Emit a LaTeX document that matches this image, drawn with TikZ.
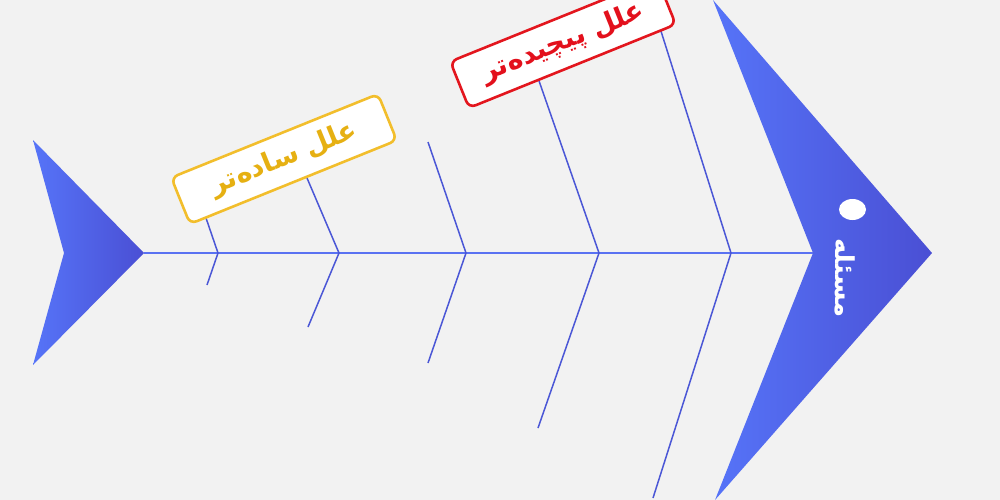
\documentclass[tikz,border=0pt]{standalone}
\usepackage{fontspec}
\newfontfamily\arabicfont[Script=Arabic,BoldFont={DejaVu Sans Bold}]{DejaVu Sans}
\TeXXeTstate=1
\definecolor{bgc}{HTML}{F2F2F2}
\definecolor{bonec}{HTML}{4B57D6}
\definecolor{spinec}{HTML}{5A72F2}
\definecolor{fishL}{HTML}{5674F8}
\definecolor{fishR}{HTML}{4A4FD4}
\definecolor{ybord}{HTML}{F2BE2C}
\definecolor{ytext}{HTML}{E6B012}
\definecolor{rbord}{HTML}{E3161E}
\definecolor{rtext}{HTML}{E3101C}
\tikzset{
  bone/.style={draw=bonec,line width=1.5pt},
  spine/.style={draw=spinec,line width=1.6pt},
  causebox/.style={fill=white,rounded corners=7pt,line width=2.6pt,
    minimum width=223pt,minimum height=50pt,inner sep=0pt,rotate=22,
    font=\arabicfont\bfseries\fontsize{27}{30}\selectfont},
  fishpart/.style={left color=fishL,right color=fishR,draw=none},
}
\begin{document}
\begin{tikzpicture}[x=1pt,y=-1pt]
\fill[bgc] (0,0) rectangle (1000,500);
\useasboundingbox (0,0) rectangle (1000,500);
% tail
\shade[fishpart] (33,140) -- (144,253) -- (33,365) -- (64,253) -- cycle;
% head
\shade[fishpart] (713,0) -- (932,253) -- (715,500) -- (813,253) -- cycle;
\coordinate (tailtip) at (144,253);
\coordinate (headnotch) at (813,253);
\draw[spine] (tailtip) -- (headnotch);
% joints
\coordinate (j1) at (218,253);
\coordinate (j2) at (339,253);
\coordinate (j3) at (466,253);
\coordinate (j4) at (599,253);
\coordinate (j5) at (731,253);
% upper ends
\coordinate (u1) at (206,218);
\coordinate (u2) at (307,178);
\coordinate (u3) at (428,142);
\coordinate (u4) at (538,78);
\coordinate (u5) at (660,28);
% lower ends
\coordinate (l1) at (207,285);
\coordinate (l2) at (308,327);
\coordinate (l3) at (428,363);
\coordinate (l4) at (538,428);
\coordinate (l5) at (653,498);
\foreach \i in {1,...,5}{
  \draw[bone] (u\i) -- (j\i) -- (l\i);
}
% cause boxes
\node[causebox,draw=ybord,text=ytext] (simple) at (284,159) {\beginR علل ساده‌تر\endR};
\node[causebox,draw=rbord,text=rtext] (complex) at (563,43) {\beginR علل پیچیده‌تر\endR};
% eye and label
\fill[white] (852.5,209.5) ellipse [x radius=13.5pt,y radius=10.5pt];
\node[text=white,rotate=-90,font=\arabicfont\bfseries\fontsize{26}{30}\selectfont,inner sep=0pt] (problem) at (845,278) {\beginR مسئله\endR};
\end{tikzpicture}
\end{document}
